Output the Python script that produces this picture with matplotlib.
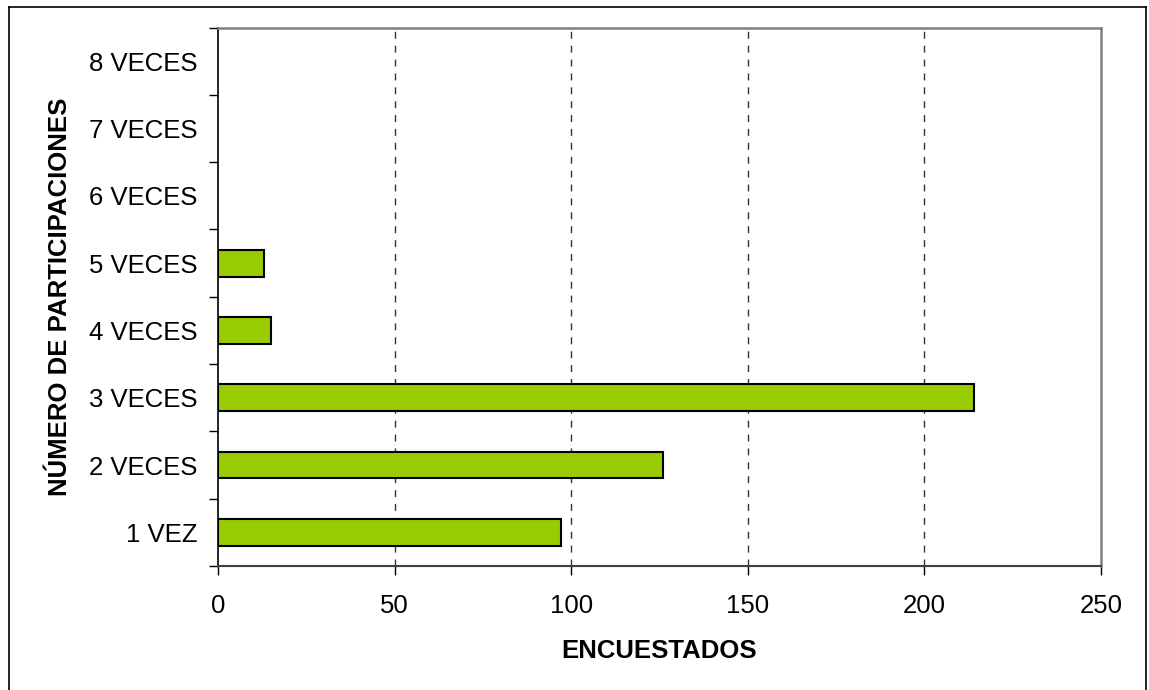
import numpy as np
import matplotlib

matplotlib.use("Agg")
import matplotlib.pyplot as plt
from matplotlib.lines import Line2D

plt.rcParams["font.family"] = ["Liberation Sans", "DejaVu Sans"]

categories = ["1 VEZ", "2 VECES", "3 VECES", "4 VECES", "5 VECES",
              "6 VECES", "7 VECES", "8 VECES"]
encuestados = [97, 126, 214, 15, 13, 0, 0, 0]
x_ticks = [0, 50, 100, 150, 200, 250]

BAR_GREEN = "#99CC00"
GRID_GREY = "#333333"
FRAME_GREY = "#808080"

fig = plt.figure(figsize=(11.49, 6.90), dpi=100)
ax = fig.add_axes([218 / 1149, 1 - 566 / 690, (1101 - 218) / 1149, (566 - 27.5) / 690])

y = np.arange(len(categories))
# empty categories get no outline, otherwise a stray edge shows on the axis
edge_widths = [1.5 if v > 0 else 0 for v in encuestados]
ax.barh(y, encuestados, height=0.4, color=BAR_GREEN, edgecolor="black",
        linewidth=edge_widths, zorder=3)

ax.set_xlim(0, 250)
ax.set_ylim(-0.5, len(categories) - 0.5)

# labels sit at bar centres, tick marks go on the category boundaries
ax.set_yticks(y)
ax.set_yticklabels(categories)
ax.set_yticks(np.arange(-0.5, len(categories), 1.0), minor=True)
ax.tick_params(axis="y", which="major", length=0, pad=15, labelsize=18.5)
ax.tick_params(axis="y", which="minor", length=6.5, width=1, color="black",
               direction="out")

ax.set_xticks(x_ticks)
ax.tick_params(axis="x", which="major", length=6.5, width=1, color="black",
               direction="out", pad=14, labelsize=18.5)

for v in x_ticks[1:-1]:
    ax.axvline(v, color=GRID_GREY, linewidth=1, linestyle=(0, (5, 5)), zorder=1)

ax.spines["left"].set_color("black")
ax.spines["left"].set_linewidth(1.2)
ax.spines["bottom"].set_color("#404040")
ax.spines["bottom"].set_linewidth(1.5)
for side in ("top", "right"):
    ax.spines[side].set_color(FRAME_GREY)
    ax.spines[side].set_linewidth(1.8)

ax.set_xlabel("ENCUESTADOS", fontsize=18.5, fontweight="bold", labelpad=15)
ax.set_ylabel("NÚMERO DE PARTICIPACIONES", fontsize=18.5, fontweight="bold",
              labelpad=12)

# chart frame around the whole figure (bottom edge falls outside the canvas)
fx0, fx1 = 8.5 / 1149, 1146 / 1149
fy1 = 1 - 6.5 / 690
for xs, ys in (([fx0, fx0], [-0.01, fy1]), ([fx0, fx1], [fy1, fy1]),
               ([fx1, fx1], [fy1, -0.01])):
    fig.add_artist(Line2D(xs, ys, transform=fig.transFigure, color="black",
                          linewidth=1.2))

fig.savefig("out.png", dpi=100)
